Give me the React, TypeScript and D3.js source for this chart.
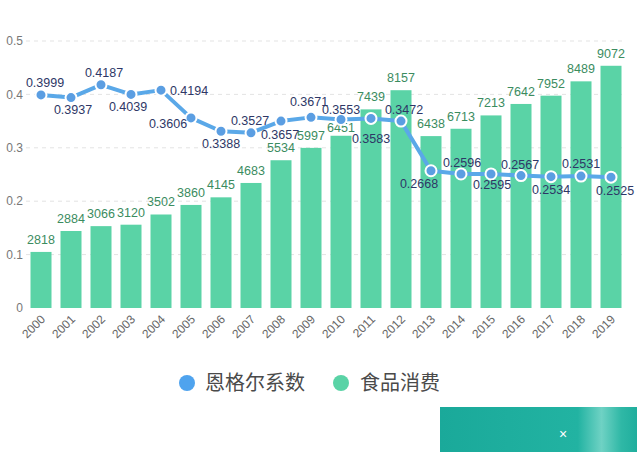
import React from "react";
import * as d3 from "d3";

const years = ["2000","2001","2002","2003","2004","2005","2006","2007","2008","2009","2010","2011","2012","2013","2014","2015","2016","2017","2018","2019"];
// printed labels of food consumption
const foodLabels = [2818,2884,3066,3120,3502,3860,4145,4683,5534,5997,6451,7439,8157,6438,6713,7213,7642,7952,8489,9072];
// bar heights as drawn (read on the hidden 0-10000 axis)
const foodValues = [2100,2884,3066,3120,3502,3860,4145,4683,5534,5997,6451,7439,8157,6438,6713,7213,7642,7952,8489,9072];
// printed Engel coefficient labels
const engelLabels = ["0.3999","0.3937","0.4187","0.4039","0.4194","0.3606","0.3388","0.3527","0.3657","0.3671","0.3553","0.3583","0.3472","0.2668","0.2596","0.2595","0.2567","0.2534","0.2531","0.2525"];
// Engel coefficient points as drawn
const engelValues = [0.399,0.394,0.418,0.400,0.408,0.356,0.331,0.328,0.350,0.357,0.353,0.355,0.350,0.257,0.251,0.251,0.248,0.246,0.247,0.245];
const yTicks = [0,0.1,0.2,0.3,0.4,0.5];
const legendItems = ["恩格尔系数","食品消费"];

// label offsets relative to each point (layout)
const engelLabelOffsets: [number, number][] = [
  [4,-12],[2,12],[3,-12],[-3,12],[28,0],[-23,6],[0,12],[-1,-12],[-1,14],[-2,-16],[0,-10],[0,20],[3,-11],[-12,13],[1,-11],[1,11],[-1,-11],[0,13],[0,-12],[4,13],
];
// vertical gap of each bar label above its bar (layout)
const foodLabelGaps = [8,8,8,8,8,8,8,8,8,8,4,8,8,8,8,8,8,8,8,8];

const W = 640, H = 455;
const FONT = "'Liberation Sans', Arial, 'Noto Sans CJK SC', sans-serif";

export default function App() {
  const x = d3.scaleBand<string>().domain(years).range([26, 626]).paddingInner(0.3).paddingOuter(0.15);
  const y = d3.scaleLinear().domain([0, 0.5]).range([308, 41]);
  const yR = d3.scaleLinear().domain([0, 10000]).range([308, 41]);
  const cx = (i: number) => (x(years[i]) as number) + x.bandwidth() / 2;

  const line = d3.line<number>().x((_, i) => cx(i)).y((d) => y(d));

  return (
    <div style={{ position: "absolute", left: 0, top: 0 }}>
      <svg width={W} height={H} style={{ display: "block", background: "#fff" }} fontFamily={FONT}>
        <defs>
          <linearGradient id="bn" x1="0" x2="1" y1="0" y2="0">
            <stop offset="0" stopColor="#1aa99a" />
            <stop offset="0.7" stopColor="#22b3a2" />
            <stop offset="0.82" stopColor="#6fd2c4" />
            <stop offset="0.92" stopColor="#2fb8a6" />
            <stop offset="1" stopColor="#1fae9d" />
          </linearGradient>
        </defs>
        {/* grid */}
        {yTicks.map((t) => (
          <g key={t}>
            {t > 0 && (
              <line x1={26} x2={624} y1={y(t)} y2={y(t)} stroke="#e3e3e3" strokeDasharray="4,4" strokeWidth={1} />
            )}
            <text x={23} y={y(t)} dy="0.35em" textAnchor="end" fontSize={12} fill="#777">
              {t === 0 ? "0" : String(t)}
            </text>
          </g>
        ))}
        {/* bars */}
        {foodValues.map((v, i) => (
          <rect key={years[i]} x={x(years[i])} y={yR(v)} width={x.bandwidth()} height={yR(0) - yR(v)} fill="#5ad3a6" />
        ))}
        {foodValues.map((v, i) => (
          <text key={"fl" + i} x={cx(i)} y={yR(v) - foodLabelGaps[i]} textAnchor="middle" fontSize={12.5} fill="#3b8c5f">
            {foodLabels[i]}
          </text>
        ))}
        {/* x labels */}
        {years.map((yr, i) => (
          <text key={"x" + yr} transform={`translate(${cx(i) + 5},${320}) rotate(-45)`} textAnchor="end" fontSize={12} fill="#666">
            {yr}
          </text>
        ))}
        {/* line */}
        <path d={line(engelValues) || ""} fill="none" stroke="#5aa8e8" strokeWidth={4} strokeLinejoin="round" />
        {engelValues.map((v, i) => (
          <circle key={"p" + i} cx={cx(i)} cy={y(v)} r={5.5} fill="#5b9ee2" stroke="#fff" strokeWidth={2} />
        ))}
        {engelValues.map((v, i) => (
          <text key={"el" + i} x={cx(i) + engelLabelOffsets[i][0]} y={y(v) + engelLabelOffsets[i][1]} dy="0.35em" textAnchor="middle" fontSize={12.5} fill="#2e3766">
            {engelLabels[i]}
          </text>
        ))}
        {/* legend */}
        <circle cx={187} cy={383} r={8} fill="#4fa3ee" />
        <text x={205} y={390} fontSize={20} fill="#4a4a4a" fontFamily="'Noto Sans CJK SC', sans-serif">{legendItems[0]}</text>
        <circle cx={341} cy={383} r={8} fill="#5ad3a6" />
        <text x={360} y={390} fontSize={20} fill="#4a4a4a" fontFamily="'Noto Sans CJK SC', sans-serif">{legendItems[1]}</text>
        {/* banner */}
        <rect x={440} y={407} width={197} height={45} fill="url(#bn)" />
        <text x={563} y={439} textAnchor="middle" fontSize={14} fill="#fff">×</text>
      </svg>
    </div>
  );
}
